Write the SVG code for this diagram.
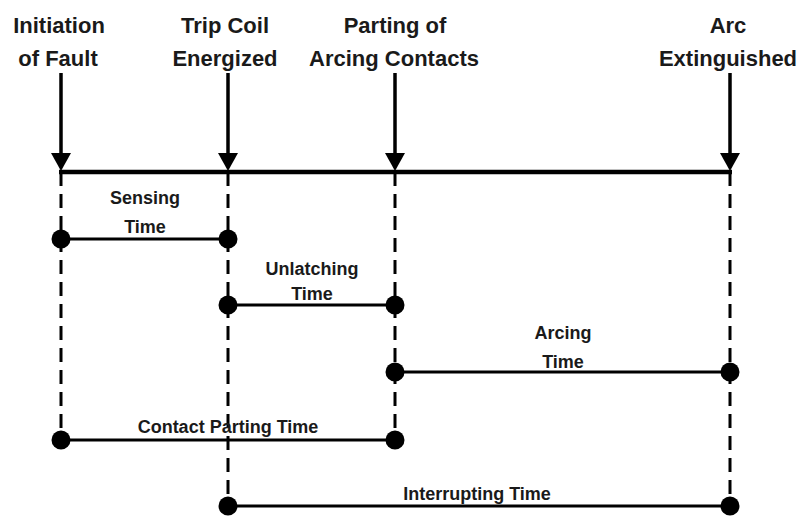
<svg xmlns="http://www.w3.org/2000/svg" width="799" height="517" viewBox="0 0 799 517">
<defs>
<style>
.lbl{font-family:"Liberation Sans",Arial,sans-serif;font-weight:bold;font-size:22px;fill:#1a1a1a;text-anchor:middle}
.sm{font-family:"Liberation Sans",Arial,sans-serif;font-weight:bold;font-size:18px;fill:#1a1a1a;text-anchor:middle}
.arr{stroke:#000;stroke-width:3.5;fill:none}
.head{fill:#000}
.dash{stroke:#000;stroke-width:3;stroke-dasharray:14 8;fill:none}
.seg{stroke:#000;stroke-width:3;fill:none}
.dot{fill:#000}
</style>
</defs>
<rect width="799" height="517" fill="#fff"/>
<g id="connectors">
<line class="arr" x1="61" y1="73" x2="61" y2="156"/>
<polygon class="head" points="51,153 71,153 61,171"/>
<line class="arr" x1="228" y1="73" x2="228" y2="156"/>
<polygon class="head" points="218,153 238,153 228,171"/>
<line class="arr" x1="395" y1="73" x2="395" y2="156"/>
<polygon class="head" points="385,153 405,153 395,171"/>
<line class="arr" x1="730" y1="73" x2="730" y2="156"/>
<polygon class="head" points="720,153 740,153 730,171"/>
<line x1="59" y1="172" x2="732" y2="172" stroke="#000" stroke-width="4.5"/>
<line class="dash" x1="61" y1="172" x2="61" y2="440"/>
<line class="dash" x1="228" y1="172" x2="228" y2="506"/>
<line class="dash" x1="395" y1="172" x2="395" y2="440"/>
<line class="dash" x1="730" y1="172" x2="730" y2="506"/>
</g>
<g id="initiation">
<text class="lbl" x="59" y="33">Initiation</text>
<text class="lbl" x="58" y="66">of Fault</text>
</g>
<g id="tripcoil">
<text class="lbl" x="225" y="33">Trip Coil</text>
<text class="lbl" x="225" y="66">Energized</text>
</g>
<g id="parting">
<text class="lbl" x="395" y="33">Parting of</text>
<text class="lbl" x="394" y="66">Arcing Contacts</text>
</g>
<g id="arcext">
<text class="lbl" x="728" y="33">Arc</text>
<text class="lbl" x="728" y="66">Extinguished</text>
</g>
<g id="sensing">
<line class="seg" x1="61" y1="239" x2="228" y2="239"/>
<circle class="dot" cx="61" cy="239" r="9.5"/>
<circle class="dot" cx="228" cy="239" r="9.5"/>
<text class="sm" x="145" y="204">Sensing</text>
<text class="sm" x="145" y="233">Time</text>
</g>
<g id="unlatching">
<line class="seg" x1="228" y1="305" x2="395" y2="305"/>
<circle class="dot" cx="228" cy="305" r="9.5"/>
<circle class="dot" cx="395" cy="305" r="9.5"/>
<text class="sm" x="312" y="275">Unlatching</text>
<text class="sm" x="312" y="300">Time</text>
</g>
<g id="arcing">
<line class="seg" x1="395" y1="372" x2="730" y2="372"/>
<circle class="dot" cx="395" cy="372" r="9.5"/>
<circle class="dot" cx="730" cy="372" r="9.5"/>
<text class="sm" x="563" y="339">Arcing</text>
<text class="sm" x="563" y="368">Time</text>
</g>
<g id="contactparting">
<line class="seg" x1="61" y1="440" x2="395" y2="440"/>
<circle class="dot" cx="61" cy="440" r="9.5"/>
<circle class="dot" cx="395" cy="440" r="9.5"/>
<text class="sm" x="228" y="433">Contact Parting Time</text>
</g>
<g id="interrupting">
<line class="seg" x1="228" y1="506" x2="730" y2="506"/>
<circle class="dot" cx="228" cy="506" r="9.5"/>
<circle class="dot" cx="730" cy="506" r="9.5"/>
<text class="sm" x="477" y="500">Interrupting Time</text>
</g>
</svg>
